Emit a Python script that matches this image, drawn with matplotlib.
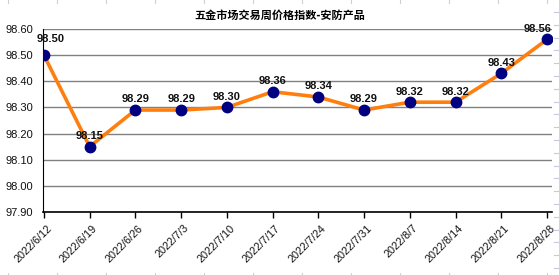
import matplotlib
matplotlib.use("Agg")
import matplotlib.pyplot as plt
from matplotlib.lines import Line2D

# 数据
dates = ["2022/6/12", "2022/6/19", "2022/6/26", "2022/7/3", "2022/7/10", "2022/7/17",
         "2022/7/24", "2022/7/31", "2022/8/7", "2022/8/14", "2022/8/21", "2022/8/28"]
values = [98.50, 98.15, 98.29, 98.29, 98.30, 98.36, 98.34, 98.29, 98.32, 98.32, 98.43, 98.56]
y_ticks = [97.90, 98.00, 98.10, 98.20, 98.30, 98.40, 98.50, 98.60]

plt.rcParams['font.family'] = ['Liberation Sans', 'Noto Sans CJK SC', 'DejaVu Sans']

W, H = 559, 275
fig = plt.figure(figsize=(W / 100, H / 100), dpi=100)
ax = fig.add_axes([43 / W, 1 - 212 / H, (552 - 43) / W, (212 - 29) / H])

x = list(range(len(values)))
ax.plot(x, values, color="#ff7f0e", linewidth=2.6, zorder=3)
ax.plot(x, values, "o", color="#000080", markersize=7.5, zorder=4)

# 数据标签（首尾标签向内收，避免出界）
for i, v in enumerate(values):
    dx, dy = 0, 4
    if i == 0:
        dx, dy = 5, 8
    elif i == len(values) - 1:
        dx = -7
    ax.annotate(f"{v:.2f}", (i, v), xytext=(dx, dy), textcoords="offset points",
                ha="center", va="bottom", fontsize=8, fontweight="bold", color="#111111")

ax.set_ylim(97.90, 98.60)
ax.set_yticks(y_ticks)
ax.set_yticklabels([f"{t:.2f}" for t in y_ticks], fontsize=8, color="#111111")
ax.set_xlim(-0.02, 11.11)
ax.set_xticks(x)
ax.set_xticklabels([])
# 日期标签：45度斜放，末端略偏右于刻度
for i, d in enumerate(dates):
    ax.annotate(d, (i, 0), xycoords=("data", "axes fraction"), xytext=(4.5, -10.5),
                textcoords="offset points", rotation=45, rotation_mode="anchor",
                ha="right", va="center", fontsize=7.8, color="#111111",
                annotation_clip=False)
ax.tick_params(axis="y", length=0, pad=7)
ax.tick_params(axis="x", length=4, width=1, color="black")

ax.grid(axis="y", color="#808080", linewidth=1)
ax.set_axisbelow(True)
for s in ["top", "right"]:
    ax.spines[s].set_visible(False)
ax.spines["left"].set_color("black")
ax.spines["bottom"].set_color("black")
ax.spines["bottom"].set_linewidth(1.2)

fig.text(0.5, 1 - 15 / H, "五金市场交易周价格指数-安防产品", ha="center", va="center",
         fontsize=8, fontweight="bold", family=["Noto Sans CJK SC", "DejaVu Sans"])

# 表格底纹的淡色网格线痕迹
for k in range(12):
    px = 8 + 49 * k
    for y0, y1 in [(H, H - 2), (3, 0)]:
        fig.add_artist(Line2D([px / W, px / W], [1 - y0 / H, 1 - y1 / H],
                              color="#d0d0d0", linewidth=0.8))
for k in range(21):
    py = 12 + 12.8 * k
    fig.add_artist(Line2D([554 / W, 1], [1 - py / H, 1 - py / H],
                          color="#c8c8e0", linewidth=0.8))

fig.savefig("out.png", dpi=100)
